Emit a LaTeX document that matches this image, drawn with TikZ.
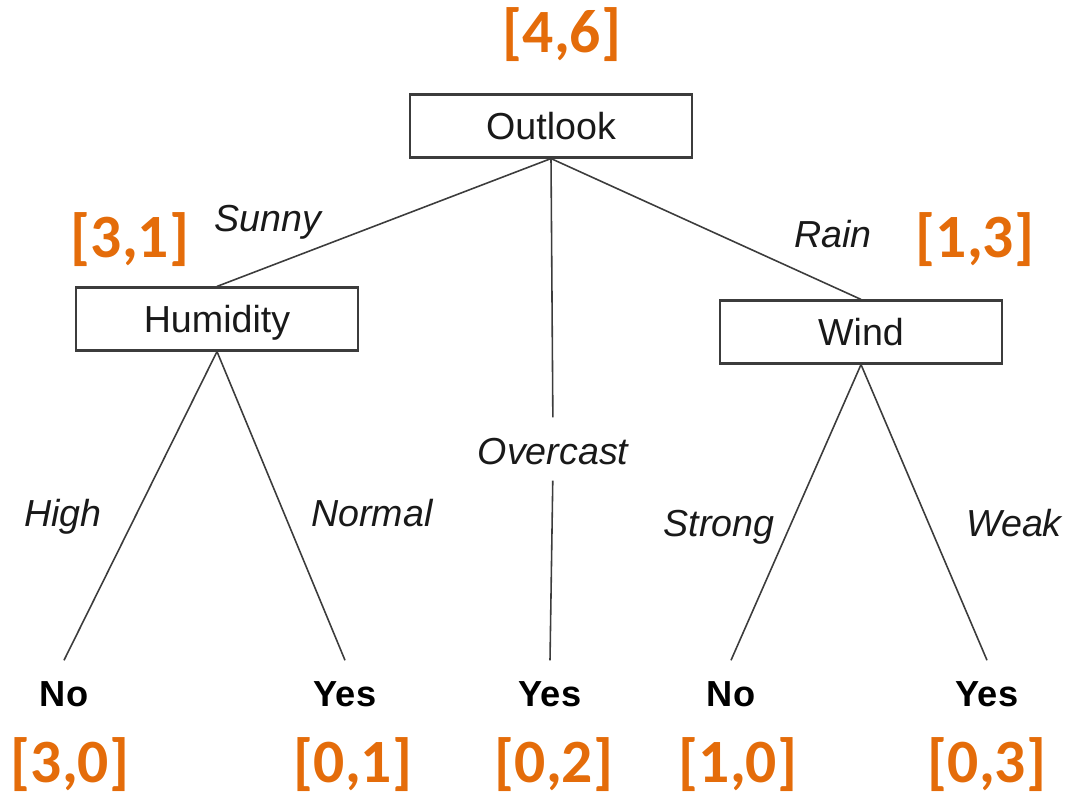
\documentclass[tikz,border=0pt]{standalone}
\usepackage{fontspec}
\setmainfont{Liberation Sans}
\newfontfamily\cntfont{Carlito}
\usetikzlibrary{positioning}
\definecolor{cntorange}{RGB}{228,108,10}
\definecolor{treegray}{RGB}{60,60,60}
\tikzset{
  attr/.style={draw=treegray, line width=0.6pt, minimum width=2.82cm, minimum height=0.63cm,
    inner sep=0pt, text depth=0pt, text=black!90, font=\fontsize{10.7}{12}\selectfont},
  branch/.style={anchor=base, inner sep=0pt, text height=0.27cm, text depth=0pt,
    text=black!90, font=\fontsize{10.7}{12}\selectfont\itshape},
  leaf/.style={anchor=base, inner sep=0.19cm, text height=0.27cm, text depth=0pt,
    font=\fontsize{10.3}{12}\selectfont\bfseries},
  counts/.style={anchor=base, inner sep=0pt, text=cntorange,
    font=\fontsize{17.5}{20}\selectfont\cntfont\bfseries},
  edge/.style={draw=treegray, line width=0.45pt}
}

\begin{document}
\begin{tikzpicture}[x=0.01cm,y=-0.01cm]
\useasboundingbox (0,0) rectangle (1067,795);

\draw(551,126) node[attr] (outlook) {Outlook};
\draw(217,319) node[attr] (humidity) {Humidity};
\draw(861,332) node[attr] (wind) {Wind};

\draw(268,232) node[branch] (sunny) {Sunny};
\draw(833,248) node[branch] (rain) {Rain};
\draw(553,465) node[branch] (overcast) {Overcast};
\draw(63,527) node[branch] (high) {High};
\draw(372,527) node[branch] (normal) {Normal};
\draw(719,537) node[branch] (strong) {Strong};
\draw(1014,537) node[branch] (weak) {Weak};

\draw(64,707) node[leaf] (no1) {No};
\draw(345,707) node[leaf] (yes1) {Yes};
\draw(550,707) node[leaf] (yes2) {Yes};
\draw(731,707) node[leaf] (no2) {No};
\draw(987,707) node[leaf] (yes3) {Yes};

\draw[edge] (outlook.south) -- (humidity.north);
\draw[edge] (outlook.south) -- (wind.north);
\draw[edge,shorten >=0.2cm] (outlook.south) -- (overcast.north);
\draw[edge,shorten <=0.15cm] (overcast.south) -- (yes2.north);
\draw[edge] (humidity.south) -- (no1.north);
\draw[edge] (humidity.south) -- (yes1.north);
\draw[edge] (wind.south) -- (no2.north);
\draw[edge] (wind.south) -- (yes3.north);

% class counts
\draw(562,53) node[counts] (c46) {[4,6]};
\draw(130,258) node[counts] (c31) {[3,1]};
\draw(975,258) node[counts] (c13) {[1,3]};
\draw(70,782) node[counts] (c30) {[3,0]};
\draw(353,782) node[counts] (c01) {[0,1]};
\draw(554,782) node[counts] (c02) {[0,2]};
\draw(738,782) node[counts] (c10) {[1,0]};
\draw(987,782) node[counts] (c03) {[0,3]};
\end{tikzpicture}
\end{document}
